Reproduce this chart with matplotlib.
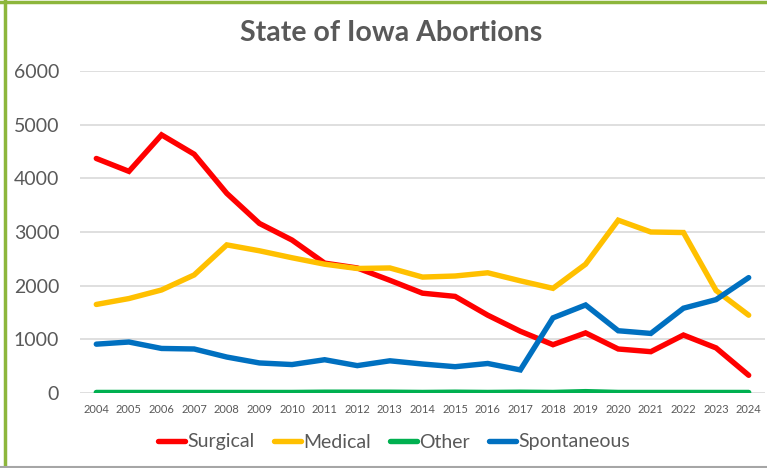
import matplotlib
matplotlib.use("Agg")
import matplotlib.pyplot as plt
from matplotlib.lines import Line2D

years = [str(y) for y in range(2004, 2025)]
surgical = [4370, 4130, 4810, 4450, 3720, 3160, 2850, 2420, 2330, 2100, 1860, 1800, 1450, 1150, 900, 1120, 820, 770, 1080, 840, 330]
medical = [1650, 1760, 1920, 2200, 2760, 2650, 2520, 2400, 2320, 2330, 2160, 2180, 2240, 2090, 1950, 2400, 3220, 3000, 2990, 1910, 1450]
other = [10, 10, 10, 10, 10, 10, 10, 15, 15, 15, 10, 15, 10, 15, 10, 25, 10, 10, 10, 10, 10]
spontaneous = [910, 950, 830, 820, 670, 560, 530, 620, 510, 600, 540, 490, 550, 430, 1400, 1640, 1160, 1110, 1580, 1740, 2150]
series_names = ["Surgical", "Medical", "Other", "Spontaneous"]
colors = ["#FF0000", "#FFC000", "#00B050", "#0070C0"]
yticks = [0, 1000, 2000, 3000, 4000, 5000, 6000]

plt.rcParams['font.family'] = ['Lato', 'DejaVu Sans']

fig = plt.figure(figsize=(7.67, 4.68), dpi=100)
ax = fig.add_axes([80/767, (468-393)/468, 685/767, (393-71)/468])

x = list(range(len(years)))
for vals, c in zip([surgical, medical, other, spontaneous], colors):
    ax.plot(x, vals, color=c, lw=3.9, solid_joinstyle='miter', solid_capstyle='round', zorder=3)

ax.set_xlim(-0.5, len(years) - 0.5)
ax.set_ylim(0, 6000)
ax.set_yticks(yticks)
ax.set_yticklabels([str(v) for v in yticks], fontsize=14, color="#595959")
ax.set_xticks(x)
ax.set_xticklabels(years, fontsize=8, color="#595959")
ax.tick_params(length=0)
ax.tick_params(axis='y', pad=15)
ax.tick_params(axis='x', pad=8)
ax.grid(axis='y', color="#D9D9D9", lw=1.2)
ax.set_axisbelow(True)
for s in ax.spines.values():
    s.set_visible(False)

fig.text(391/767, (468-33)/468, "State of Iowa Abortions", ha='center', va='center',
         fontsize=20.5, fontweight='bold', color="#595959")

handles = [Line2D([0], [0], color=c, lw=3.9, solid_capstyle='round') for c in colors]
fig.legend(handles, series_names, loc='center', bbox_to_anchor=(394/767, (468-442)/468),
           ncol=4, frameon=False, fontsize=14, handlelength=1.4, handletextpad=0.1,
           columnspacing=1.0, labelcolor="#595959")

# frame lines
fig.add_artist(Line2D([4.5/767, 4.5/767], [0, 1], transform=fig.transFigure, color="#8DB63C", lw=2.5))
fig.add_artist(Line2D([0, 1], [1 - 1.5/468, 1 - 1.5/468], transform=fig.transFigure, color="#8DB63C", lw=2.5))
fig.add_artist(Line2D([0, 1], [1.5/468, 1.5/468], transform=fig.transFigure, color="#A6A6A6", lw=1.5))

fig.savefig("out.png", dpi=100)
